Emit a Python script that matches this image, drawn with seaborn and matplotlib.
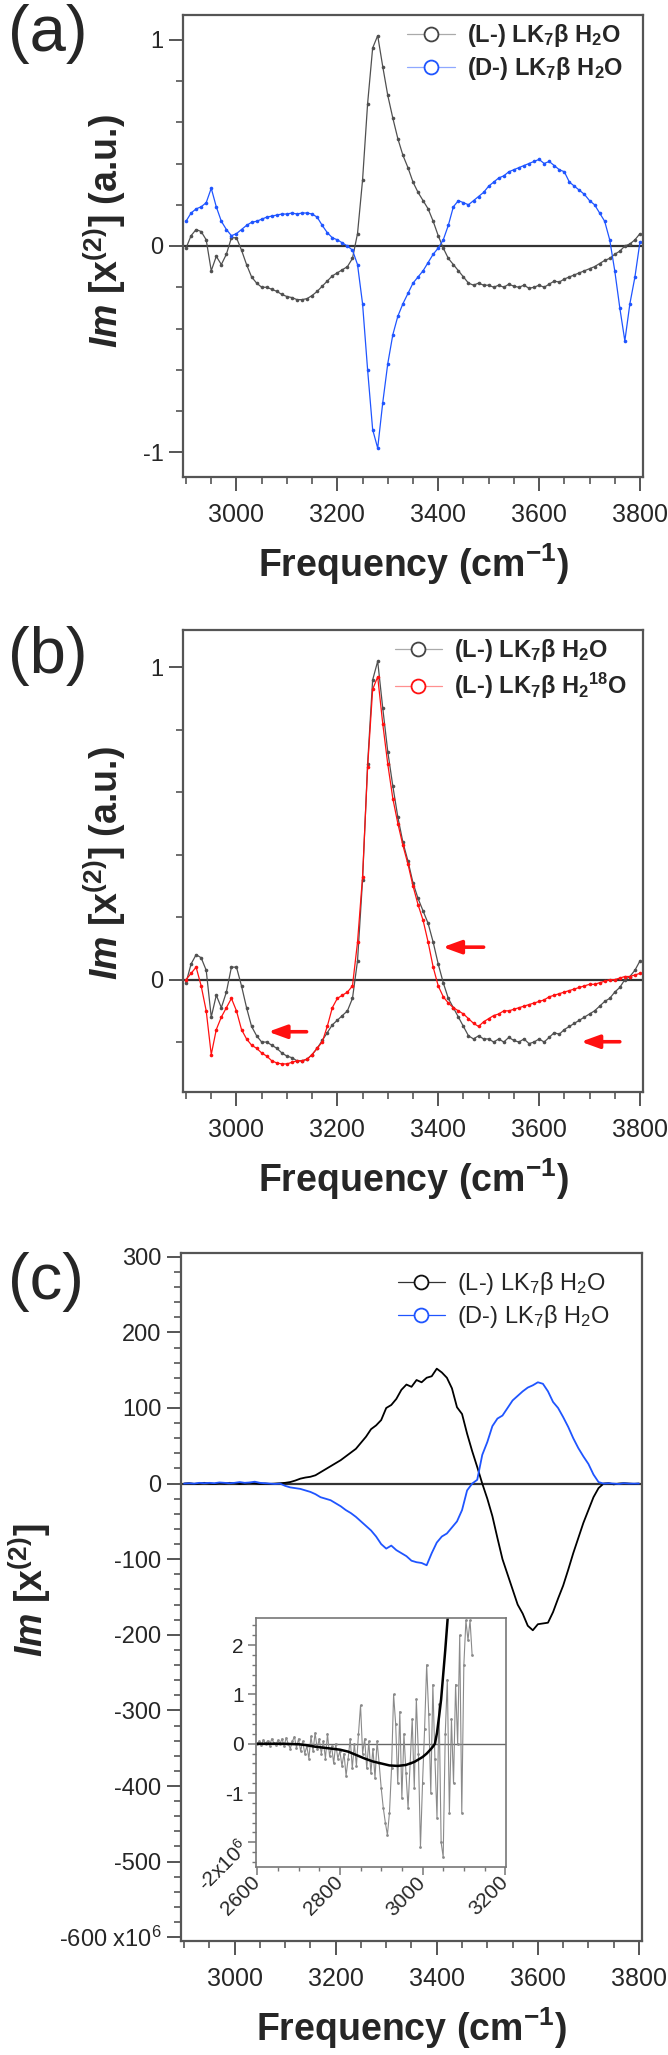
import matplotlib
matplotlib.use("Agg")
import matplotlib.pyplot as plt
from matplotlib.ticker import MultipleLocator
from matplotlib.lines import Line2D
import numpy as np
import seaborn as sns

# style first, fonts after (set_style resets font.family)
sns.set_style("ticks")
plt.rcParams['font.family'] = ['Liberation Sans', 'DejaVu Sans']
plt.rcParams['axes.unicode_minus'] = False
plt.rcParams['mathtext.fontset'] = 'custom'
plt.rcParams['mathtext.rm'] = 'Liberation Sans'
plt.rcParams['mathtext.bf'] = 'Liberation Sans:bold'
plt.rcParams['mathtext.it'] = 'Liberation Sans:italic'
plt.rcParams['mathtext.bfit'] = 'Liberation Sans:bold:italic'

# ---------------- data ----------------
# panels (a) and (b): normalised Im chi(2), sampled every 10 cm-1
freq_ab = np.arange(2900, 3801, 10)

l_h2o = [-0.01, 0.05, 0.08, 0.07, 0.03, -0.12, -0.05, -0.09, -0.04, 0.04,
         0.04, -0.02, -0.09, -0.15, -0.18, -0.20, -0.20, -0.21, -0.22, -0.235,
         -0.245, -0.25, -0.26, -0.26, -0.255, -0.24, -0.22, -0.195, -0.17, -0.145,
         -0.13, -0.115, -0.10, -0.06, 0.06, 0.32, 0.69, 0.96, 1.02, 0.87,
         0.73, 0.62, 0.52, 0.44, 0.38, 0.31, 0.26, 0.22, 0.18, 0.12,
         0.05, -0.01, -0.06, -0.09, -0.12, -0.15, -0.18, -0.19, -0.18, -0.19,
         -0.19, -0.20, -0.19, -0.20, -0.185, -0.195, -0.20, -0.19, -0.205, -0.20,
         -0.19, -0.20, -0.185, -0.17, -0.175, -0.16, -0.15, -0.14, -0.13, -0.12,
         -0.11, -0.10, -0.085, -0.07, -0.06, -0.04, -0.025, 0.0, 0.01, 0.03,
         0.06]

d_h2o = [0.12, 0.16, 0.18, 0.19, 0.21, 0.28, 0.19, 0.12, 0.08, 0.05,
         0.06, 0.08, 0.10, 0.115, 0.12, 0.13, 0.14, 0.145, 0.15, 0.155,
         0.155, 0.16, 0.155, 0.16, 0.16, 0.155, 0.14, 0.10, 0.065, 0.04,
         0.03, 0.015, 0.0, -0.02, -0.09, -0.28, -0.60, -0.89, -0.98, -0.76,
         -0.57, -0.43, -0.34, -0.28, -0.23, -0.18, -0.15, -0.12, -0.08, -0.04,
         -0.01, 0.03, 0.10, 0.19, 0.22, 0.21, 0.20, 0.22, 0.24, 0.26,
         0.29, 0.31, 0.33, 0.34, 0.36, 0.37, 0.38, 0.39, 0.40, 0.41,
         0.42, 0.40, 0.41, 0.39, 0.37, 0.36, 0.31, 0.29, 0.27, 0.25,
         0.22, 0.20, 0.16, 0.12, 0.03, -0.12, -0.30, -0.46, -0.28, -0.15,
         0.02]

l_h2o18 = [0.0, 0.02, 0.04, -0.02, -0.10, -0.24, -0.16, -0.12, -0.09, -0.06,
           -0.10, -0.16, -0.19, -0.21, -0.22, -0.235, -0.245, -0.26, -0.267, -0.27,
           -0.27, -0.265, -0.26, -0.26, -0.255, -0.24, -0.22, -0.20, -0.15, -0.09,
           -0.06, -0.05, -0.04, -0.02, 0.12, 0.33, 0.68, 0.93, 0.97, 0.82,
           0.69, 0.58, 0.50, 0.43, 0.37, 0.30, 0.24, 0.19, 0.12, 0.04,
           -0.02, -0.055, -0.075, -0.09, -0.10, -0.11, -0.125, -0.14, -0.15, -0.135,
           -0.125, -0.115, -0.11, -0.10, -0.10, -0.095, -0.09, -0.085, -0.08, -0.075,
           -0.07, -0.065, -0.055, -0.05, -0.045, -0.04, -0.035, -0.03, -0.025, -0.02,
           -0.015, -0.015, -0.01, -0.005, 0.0, 0.0, 0.005, 0.01, 0.01, 0.015,
           0.02]

# red arrows in (b): head x, tail x, y
arrow_head_x = [3409, 3063, 3683]
arrow_tail_x = [3490, 3139, 3760]
arrow_y = [0.104, -0.167, -0.199]

# panel (c): absolute Im chi(2) (x10^6), every 10 cm-1
freq_c = np.arange(2900, 3801, 10)

l_c = [0, 0.5, -0.5, 0, 1, 0, -0.5, 0.5, 0, 1,
       0.5, -0.5, 0, 1, 0.5, -0.5, 0, -0.5, 0, 0.5,
       1, 2, 4, 6.5, 8, 9, 11, 15, 19, 23,
       27, 31, 36, 41, 46, 54, 62, 72, 77, 84,
       100, 104, 112, 124, 131, 128, 137, 134, 140, 142,
       152, 147, 140, 126, 101, 92, 66, 43, 22, 0,
       -20, -43, -72, -100, -120, -140, -160, -172, -188, -194,
       -186, -185, -184, -170, -152, -135, -114, -92, -72, -52,
       -35, -18, -6, 0, 0.5, -1, 0, 0.5, 0, -0.5,
       0]

d_c = [0, 0.5, 0, 1, 0.5, 1, 0.5, 1.5, 1, 0.5,
       1, 2, 1, 1.5, 2.5, 1, 0.5, 0, -0.5, 0,
       -3, -5, -6, -7, -9, -11, -14, -18, -20, -22,
       -26, -30, -35, -39, -44, -50, -56, -62, -70, -80,
       -86, -82, -88, -92, -96, -102, -104, -105, -108, -92,
       -78, -70, -66, -58, -50, -35, -9, 0, 5, 38,
       55, 76, 86, 90, 100, 110, 116, 122, 127, 130,
       134, 132, 122, 108, 100, 88, 75, 60, 47, 36,
       26, 12, 2, 0, 0.5, 0, -0.5, 0.5, 0, 0,
       0]

# inset: raw low-frequency data (every 5 cm-1) and smooth fit
inset_freq = np.arange(2600, 3121, 5)
inset_raw = [0.0, 0.05, -0.02, 0.08, 0.0, 0.06, -0.04, 0.1, 0.02, -0.03,
             0.07, 0.0, 0.1, -0.05, 0.12, 0.0, -0.1, 0.05, 0.14, -0.08,
             0.1, -0.15, 0.05, -0.2, -0.05, -0.3, 0.15, -0.15, 0.22, -0.1,
             0.1, -0.2, 0.05, -0.3, 0.2, -0.25, -0.05, -0.4, 0.0, -0.3,
             -0.15, -0.45, -0.2, -0.65, -0.3, 0.1, -0.5, 0.0, -0.45, 0.2,
             0.78, -0.2, 0.1, -0.5, 0.05, -0.6, -0.1, -0.7, 0.05, -0.4,
             -0.9, -1.3, -1.6, -1.85, -1.4, -0.5, 1.0, 0.4, -0.8, 0.65,
             -1.1, 0.2, -0.6, -1.3, -0.4, 0.5, -0.9, 0.9, -0.2, -2.1,
             -0.8, 0.3, 1.6, 0.6, -1.0, 1.2, -0.3, -1.5, 0.8, -2.0,
             -2.3, 0.2, 1.3, -1.4, 0.5, -0.8, 1.2, 0.0, 2.2, -1.4,
             1.6, 2.5, 2.1, 2.5, 1.8]

fit_freq = [2600, 2620, 2640, 2660, 2680, 2700, 2720, 2740, 2760, 2780,
            2800, 2820, 2840, 2860, 2880, 2900, 2920, 2940, 2960, 2980,
            3000, 3010, 3020, 3025, 3030, 3035, 3040, 3045, 3050, 3055, 3060, 3065]
fit_vals = [0, 0, 0, 0, -0.005, -0.01, -0.03, -0.06, -0.08, -0.1,
            -0.12, -0.16, -0.23, -0.3, -0.36, -0.4, -0.44, -0.45, -0.43, -0.37,
            -0.27, -0.2, -0.11, -0.06, 0.0, 0.22, 0.55, 0.9, 1.4, 1.9, 2.45, 3.0]

lab_l = r"(L-) LK$_{\mathbf{7}}$β H$_{\mathbf{2}}$O"
lab_d = r"(D-) LK$_{\mathbf{7}}$β H$_{\mathbf{2}}$O"
lab_18 = r"(L-) LK$_{\mathbf{7}}$β H$_{\mathbf{2}}$$^{\mathbf{18}}$O"
lab_l_c = r"(L-) LK$_7$β H$_2$O"
lab_d_c = r"(D-) LK$_7$β H$_2$O"
xlab = r"Frequency (cm$^{\mathbf{-1}}$)"
ylab_ab = r"$\mathbfit{Im}$ [x$^{\mathbf{(2)}}$] (a.u.)"
ylab_c = r"$\mathbfit{Im}$ [x$^{\mathbf{(2)}}$]"

GRAY, BLUE, RED = '#505050', '#1f55ff', '#ff1010'

W, H = 668, 2055
fig = plt.figure(figsize=(W / 100, H / 100), dpi=100)


def px_axes(left, top, right, bottom):
    return fig.add_axes([left / W, 1 - bottom / H, (right - left) / W, (bottom - top) / H])


def style_main(ax, ylim, ymaj, ymin):
    ax.set_xlim(2894, 3806)
    ax.set_ylim(*ylim)
    ax.xaxis.set_major_locator(MultipleLocator(200))
    ax.xaxis.set_minor_locator(MultipleLocator(50))
    ax.yaxis.set_major_locator(MultipleLocator(ymaj))
    ax.yaxis.set_minor_locator(MultipleLocator(ymin))
    for sp in ax.spines.values():
        sp.set_color('#555555')
        sp.set_linewidth(1.6)
    ax.tick_params(which='major', direction='out', length=10, width=1.4, color='#555555')
    ax.tick_params(which='minor', direction='out', length=5, width=1.2, color='#555555')
    ax.tick_params(axis='x', labelsize=18, pad=9)
    ax.tick_params(axis='y', labelsize=17, pad=4)
    ax.axhline(0, color='#333333', lw=1.6, zorder=1)
    ax.set_xlabel(xlab, fontsize=27, fontweight='bold', labelpad=10)


def handle(line_c, edge_c):
    return Line2D([], [], color=line_c, lw=0.9, marker='o', ms=10,
                  mfc='white', mec=edge_c, mew=1.3)


def spectrum(ax, x, y, color, lw=0.9, ms=2.6, marker='o'):
    sns.lineplot(x=x, y=y, ax=ax, color=color, lw=lw, marker=marker,
                 markersize=ms, markeredgewidth=0, sort=False, estimator=None)


# ---------------- (a) ----------------
ax_a = px_axes(183, 15, 643, 477)
spectrum(ax_a, freq_ab, l_h2o, GRAY)
spectrum(ax_a, freq_ab, d_h2o, BLUE)
style_main(ax_a, (-1.12, 1.12), 1, 0.2)
ax_a.set_ylabel(ylab_ab, fontsize=27, fontweight='bold')
ax_a.yaxis.set_label_coords(-0.12, 0.533)
ax_a.legend([handle('#aaaaaa', '#444444'), handle('#8fa8ff', BLUE)], [lab_l, lab_d],
            loc='upper left', bbox_to_anchor=(0.488, 0.985), frameon=False,
            prop={'weight': 'bold', 'size': 17}, handlelength=2.0, handletextpad=0.5,
            borderaxespad=0, borderpad=0, labelspacing=0.25)

# ---------------- (b) ----------------
ax_b = px_axes(183, 630, 643, 1092)
spectrum(ax_b, freq_ab, l_h2o, GRAY)
spectrum(ax_b, freq_ab, l_h2o18, RED)
style_main(ax_b, (-0.36, 1.12), 1, 0.2)
ax_b.set_ylabel(ylab_ab, fontsize=27, fontweight='bold')
ax_b.yaxis.set_label_coords(-0.12, 0.496)
ax_b.legend([handle('#aaaaaa', '#444444'), handle('#ff9090', RED)], [lab_l, lab_18],
            loc='upper left', bbox_to_anchor=(0.46, 0.985), frameon=False,
            prop={'weight': 'bold', 'size': 17}, handlelength=2.0, handletextpad=0.5,
            borderaxespad=0, borderpad=0, labelspacing=0.3)
for hx, tx, ay in zip(arrow_head_x, arrow_tail_x, arrow_y):
    ax_b.annotate('', xy=(hx, ay), xytext=(tx, ay),
                  arrowprops=dict(arrowstyle='-|>,head_length=0.55,head_width=0.2',
                                  color=RED, lw=2.6, mutation_scale=20,
                                  shrinkA=0, shrinkB=0))

# ---------------- (c) ----------------
ax_c = px_axes(181, 1253, 642, 1941)
spectrum(ax_c, freq_c, l_c, 'black', lw=1.3, ms=0, marker=None)
spectrum(ax_c, freq_c, d_c, BLUE, lw=1.3, ms=0, marker=None)
style_main(ax_c, (-605, 305), 100, 20)
yt = [-600, -500, -400, -300, -200, -100, 0, 100, 200, 300]
ax_c.set_yticks(yt, labels=['-600 x10$^6$'] + [str(v) for v in yt[1:]])
ax_c.set_ylabel(ylab_c, fontsize=27, fontweight='bold')
ax_c.yaxis.set_label_coords(-0.278, 0.51)
ax_c.legend([handle('#333333', '#111111'), handle(BLUE, BLUE)], [lab_l_c, lab_d_c],
            loc='upper left', bbox_to_anchor=(0.47, 0.975), frameon=False,
            prop={'size': 17}, handlelength=2.0, handletextpad=0.5,
            borderaxespad=0, borderpad=0, labelspacing=0.25)

# ---------------- inset ----------------
ax_in = px_axes(256, 1618, 506, 1867)
spectrum(ax_in, inset_freq, inset_raw, '#8a8a8a', lw=0.8, ms=2, marker='o')
sns.lineplot(x=fit_freq, y=fit_vals, ax=ax_in, color='black', lw=1.8, sort=False, estimator=None)
ax_in.set_xlim(2597, 3202)
ax_in.set_ylim(-2.5, 2.55)
ax_in.axhline(0, color='#666666', lw=1.0, zorder=1)
ax_in.xaxis.set_major_locator(MultipleLocator(200))
ax_in.xaxis.set_minor_locator(MultipleLocator(50))
ax_in.yaxis.set_minor_locator(MultipleLocator(0.2))
ax_in.set_yticks([-2, -1, 0, 1, 2], labels=['-2x10$^6$', '-1', '0', '1', '2'])
for sp in ax_in.spines.values():
    sp.set_color('#777777')
    sp.set_linewidth(1.2)
ax_in.tick_params(which='major', direction='out', length=6, width=1.1, color='#777777', labelsize=15, pad=3)
ax_in.tick_params(which='minor', direction='out', length=3, width=1.0, color='#777777')
first = ax_in.get_yticklabels()[0]
first.set_rotation(45)
first.set_rotation_mode('anchor')
for lab in ax_in.get_xticklabels():
    lab.set_rotation(45)
    lab.set_rotation_mode('anchor')
    lab.set_horizontalalignment('right')
    lab.set_verticalalignment('center')
ax_in.set_xlabel('')
ax_in.set_ylabel('')

# panel letters
for txt, base in [('(a)', 51), ('(b)', 673), ('(c)', 1299)]:
    fig.text(8 / W, 1 - base / H, txt, fontsize=47, va='baseline', ha='left')

fig.savefig('out.png', dpi=100)
